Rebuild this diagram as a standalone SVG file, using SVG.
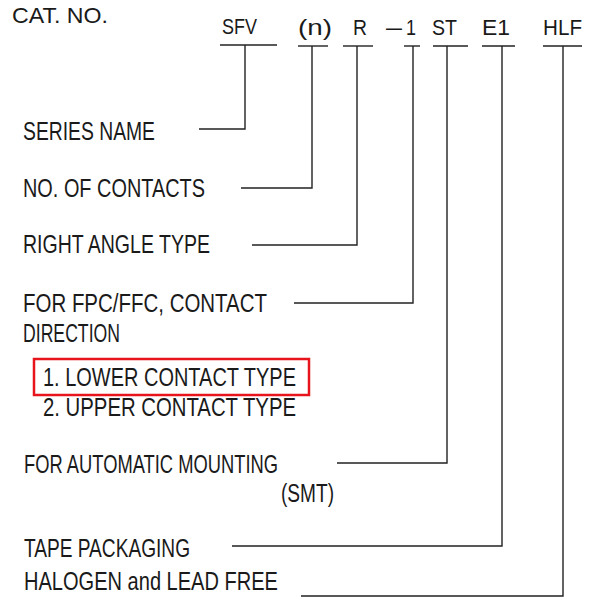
<svg xmlns="http://www.w3.org/2000/svg" width="592" height="611" viewBox="0 0 592 611">
<style>
text{font-family:"Liberation Sans",Arial,sans-serif;fill:#1a1a1a;}
.h{font-size:22px;}
.b{font-size:25px;}
.ln{stroke:#222;stroke-width:1.4;fill:none;}
.hl{stroke:#e8141c;stroke-width:2.5;fill:none;}
</style>
<rect width="592" height="611" fill="#fff"/>
<g id="title"><text class="h" x="12" y="23" textLength="96" lengthAdjust="spacingAndGlyphs">CAT. NO.</text></g>
<g id="code">
<text class="h" x="222" y="34" textLength="35" lengthAdjust="spacingAndGlyphs">SFV</text>
<text class="h" x="298" y="35" textLength="34" lengthAdjust="spacingAndGlyphs">(n)</text>
<text class="h" x="353" y="35" textLength="14" lengthAdjust="spacingAndGlyphs">R</text>
<text class="h" x="386" y="35" textLength="16" lengthAdjust="spacingAndGlyphs">–</text>
<text class="h" x="406" y="35" textLength="10" lengthAdjust="spacingAndGlyphs">1</text>
<text class="h" x="432" y="35" textLength="25" lengthAdjust="spacingAndGlyphs">ST</text>
<text class="h" x="482" y="35" textLength="28" lengthAdjust="spacingAndGlyphs">E1</text>
<text class="h" x="543" y="35" textLength="39" lengthAdjust="spacingAndGlyphs">HLF</text>
</g>
<g id="series"><text class="b" x="23" y="140" textLength="132" lengthAdjust="spacingAndGlyphs">SERIES NAME</text></g>
<g id="contacts"><text class="b" x="23" y="197" textLength="182" lengthAdjust="spacingAndGlyphs">NO. OF CONTACTS</text></g>
<g id="rightangle"><text class="b" x="23" y="253" textLength="187" lengthAdjust="spacingAndGlyphs">RIGHT ANGLE TYPE</text></g>
<g id="direction">
<text class="b" x="23" y="312" textLength="244" lengthAdjust="spacingAndGlyphs">FOR FPC/FFC, CONTACT</text>
<text class="b" x="23" y="342" textLength="97" lengthAdjust="spacingAndGlyphs">DIRECTION</text>
<rect class="hl" x="34" y="359" width="275" height="36"/>
<text class="b" x="43" y="386" textLength="253" lengthAdjust="spacingAndGlyphs">1. LOWER CONTACT TYPE</text>
<text class="b" x="43" y="416" textLength="253" lengthAdjust="spacingAndGlyphs">2. UPPER CONTACT TYPE</text>
</g>
<g id="smt">
<text class="b" x="24" y="473" textLength="254" lengthAdjust="spacingAndGlyphs">FOR AUTOMATIC MOUNTING</text>
<text class="b" x="281" y="502" textLength="53" lengthAdjust="spacingAndGlyphs">(SMT)</text>
</g>
<g id="tape"><text class="b" x="24" y="557" textLength="166" lengthAdjust="spacingAndGlyphs">TAPE PACKAGING</text></g>
<g id="halogen"><text class="b" x="24" y="590" textLength="254" lengthAdjust="spacingAndGlyphs">HALOGEN and LEAD FREE</text></g>
<g id="connectors">
<line class="ln" x1="220" y1="45" x2="277" y2="45"/>
<line class="ln" x1="298" y1="46" x2="328" y2="46"/>
<line class="ln" x1="343" y1="46" x2="373" y2="46"/>
<line class="ln" x1="404" y1="46" x2="420" y2="46"/>
<line class="ln" x1="433" y1="46" x2="468" y2="46"/>
<line class="ln" x1="482" y1="46" x2="515" y2="46"/>
<line class="ln" x1="543" y1="46" x2="582" y2="46"/>
<polyline class="ln" points="245,45 245,129 199,129"/>
<polyline class="ln" points="312,46 312,188 241,188"/>
<polyline class="ln" points="357,46 357,245 252,245"/>
<polyline class="ln" points="413,46 413,303 294,303"/>
<polyline class="ln" points="447,46 447,463 337,463"/>
<polyline class="ln" points="502,46 502,546 232,546"/>
<polyline class="ln" points="563,46 563,596 301,596"/>
</g>
</svg>
